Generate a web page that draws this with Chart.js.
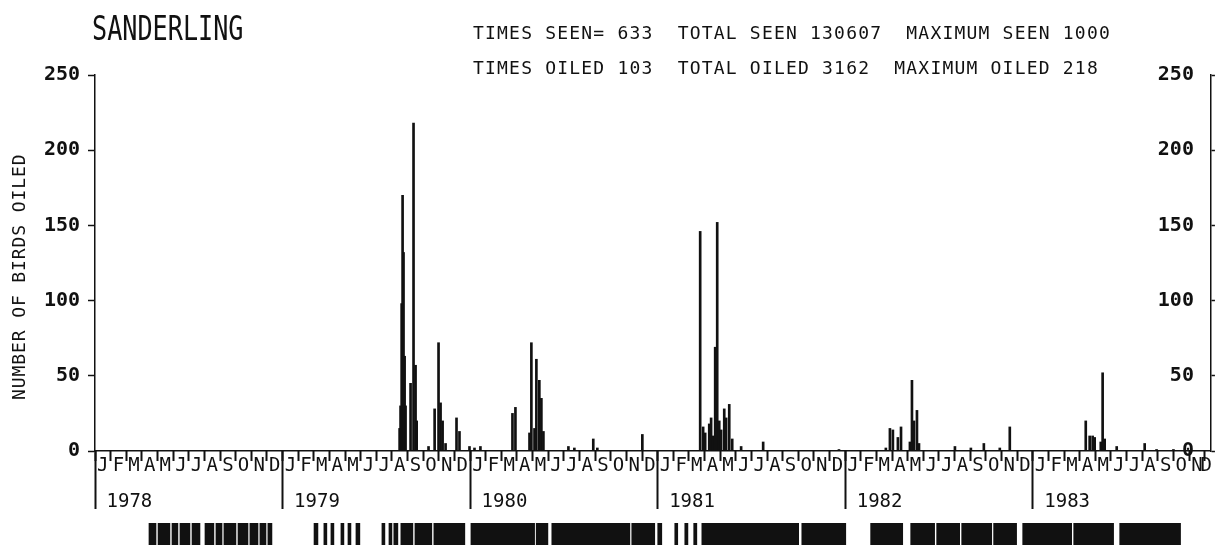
<!DOCTYPE html>
<html>
<head>
<meta charset="utf-8">
<script src="https://cdn.jsdelivr.net/npm/chart.js@4.4.1/dist/chart.umd.min.js"></script>
<style>
  html, body { margin: 0; padding: 0; background: #fff; }
  #wrap { position: relative; width: 1217px; height: 548px; overflow: hidden; background: #fff; }
  #plot { position: absolute; left: 0; top: 0; }
  #strip { position: absolute; left: 0; top: 523px; }
  .txt { position: absolute; font-family: 'DejaVu Sans Mono', monospace; color: #111; white-space: pre; line-height: 1; }
  #title { left: 92px; top: 11px; font-size: 34px; transform: scaleX(0.74); transform-origin: left top; }
  #head1 { left: 473px; top: 24px; font-size: 18px; letter-spacing: 1.2px; }
  #head2 { left: 473px; top: 59px; font-size: 18px; letter-spacing: 1.2px; }
  #ytitle { left: 10px; top: 400px; font-size: 18px; letter-spacing: 0.9px; transform: rotate(-90deg); transform-origin: left top; }
</style>
</head>
<body>
<div id="wrap">
  <canvas id="plot" width="1217" height="548"></canvas>
  <canvas id="strip" width="1217" height="22"></canvas>
  <div id="title" class="txt">SANDERLING</div>
  <div id="head1" class="txt">TIMES SEEN= 633  TOTAL SEEN 130607  MAXIMUM SEEN 1000</div>
  <div id="head2" class="txt">TIMES OILED 103  TOTAL OILED 3162  MAXIMUM OILED 218</div>
  <div id="ytitle" class="txt">NUMBER OF BIRDS OILED</div>
</div>
<script>
// eje x en meses desde el 1 de enero de 1978
const monthLetters = ['J', 'F', 'M', 'A', 'M', 'J', 'J', 'A', 'S', 'O', 'N', 'D'];
const years = ['1978', '1979', '1980', '1981', '1982', '1983'];
const yTicks = [0, 50, 100, 150, 200, 250];

// aves petroleadas por dia de censo
const spikeMonths = [
  19.49, 19.55, 19.62, 19.68, 19.74, 19.81, 19.87, 20.19, 20.38, 20.51, 20.58, 21.34, 21.73, 21.98, 22.11, 22.24, 22.43, 23.13, 23.32, 23.96, 24.28,
  24.66, 26.71, 26.9, 27.8, 27.92, 28.12, 28.24, 28.43, 28.56, 28.69, 30.29, 30.67, 31.88, 32.14, 35.02,
  38.72, 38.91, 39.04, 39.3, 39.42, 39.55, 39.68, 39.81, 39.94, 40.06, 40.26, 40.38, 40.58, 40.77, 41.34, 42.75,
  47.6, 50.6, 50.86, 51.05, 51.37, 51.57, 52.14, 52.27, 52.4, 52.59, 52.72, 55.02, 56.04, 56.87, 57.89, 58.53,
  63.39, 63.64, 63.83, 63.96, 64.35, 64.47, 64.6, 65.37, 67.16, 67.92, 69.0
];
const spikeValues = [
  15, 30, 98, 170, 132, 63, 30, 45, 218, 57, 20, 3, 28, 72, 32, 20, 5, 22, 13, 3, 2,
  3, 25, 29, 12, 72, 15, 61, 47, 35, 13, 3, 2, 8, 2, 11,
  146, 16, 12, 18, 22, 10, 69, 152, 20, 14, 28, 22, 31, 8, 3, 6,
  1, 2, 15, 14, 9, 16, 6, 47, 20, 27, 5, 3, 2, 5, 2, 16,
  20, 10, 10, 9, 6, 52, 8, 3, 5, 1, 1
];

// periodos con censo (franja inferior)
const stripStart = [
  3.45, 4.03, 4.92, 5.43, 6.20, 7.03, 7.73, 8.24, 9.14, 9.90, 10.54, 11.05,
  14.0, 14.63, 15.08, 15.72, 16.17, 16.68,
  18.34, 18.79, 19.1, 19.55, 20.45, 21.66,
  24.03, 28.2, 29.2, 34.31,
  35.97, 37.06, 37.7, 38.27, 38.79, 45.18,
  49.58, 52.14, 53.8, 55.4, 57.44,
  59.3, 62.56, 65.5
];
const stripEnd = [
  3.90, 4.79, 5.30, 6.07, 6.71, 7.60, 8.12, 9.01, 9.78, 10.42, 10.93, 11.31,
  14.25, 14.82, 15.27, 15.91, 16.36, 16.93,
  18.53, 18.98, 19.36, 20.32, 21.53, 23.64,
  28.1, 28.95, 34.19, 35.78,
  36.23, 37.25, 37.9, 38.47, 44.98, 47.99,
  51.63, 53.67, 55.27, 57.32, 58.91,
  62.43, 65.11, 69.39
];

const INK = '#111';
const MONO = 'DejaVu Sans Mono';
const X_MAX = 71.4;

// etiquetas del eje x: letras de mes centradas y años
const xLabelTicks = [];
// marcas cortas de mes y separadores largos de año
const monthEdges = [];
const yearEdges = [];
years.forEach((yr, y) => {
  yearEdges.push(12 * y);
  xLabelTicks.push({ value: 12 * y + 2.2, kind: 'year', label: yr });
  monthLetters.forEach((ml, m) => {
    monthEdges.push(12 * y + m);
    xLabelTicks.push({ value: Math.min(12 * y + m + 0.5, X_MAX - 0.3), kind: 'letter', label: ml });
  });
});
xLabelTicks.sort((a, b) => a.value - b.value);

// eje auxiliar sin etiquetas, anclado en y = 0, que solo dibuja marcas
function edgeAxis(values, len) {
  return {
    type: 'linear',
    position: { y: 0 },
    min: 0,
    max: X_MAX,
    offset: false,
    afterBuildTicks: s => { s.ticks = values.map(v => ({ value: v })); },
    border: { display: false },
    grid: { offset: false, drawOnChartArea: false, drawTicks: true, tickLength: len, tickWidth: 2, tickColor: INK },
    ticks: { display: false }
  };
}

new Chart(document.getElementById('plot'), {
  type: 'bar',
  data: {
    datasets: [{
      data: spikeMonths.map((m, i) => ({ x: m, y: spikeValues[i] })),
      backgroundColor: INK,
      borderWidth: 0,
      barThickness: 2,
      xAxisID: 'x',
      yAxisID: 'y'
    }]
  },
  options: {
    responsive: false,
    animation: false,
    devicePixelRatio: 1,
    layout: { padding: { top: 75, left: 0, right: 0, bottom: 0 } },
    plugins: { legend: { display: false }, tooltip: { enabled: false } },
    scales: {
      x: {
        type: 'linear',
        position: 'bottom',
        min: 0,
        max: X_MAX,
        offset: false,
        afterBuildTicks: s => { s.ticks = xLabelTicks.map(t => ({ value: t.value })); },
        afterFit: s => { s.height = 97; },
        border: { display: true, color: INK, width: 1.5 },
        grid: { display: false, offset: false, drawTicks: false },
        ticks: {
          autoSkip: false,
          maxRotation: 0,
          minRotation: 0,
          padding: 5,
          color: INK,
          callback: (v, i) => xLabelTicks[i].label,
          font: ctx => (xLabelTicks[ctx.index] || {}).kind === 'year'
            ? { family: MONO, size: 19, lineHeight: '92px' }
            : { family: MONO, size: 19, lineHeight: '20px' }
        }
      },
      xMonth: edgeAxis(monthEdges, 10),
      xYear: edgeAxis(yearEdges, 58),
      y: {
        type: 'linear',
        position: 'left',
        min: 0,
        max: 250,
        afterBuildTicks: s => { s.ticks = yTicks.map(v => ({ value: v })); },
        afterFit: s => { s.width = 95; },
        border: { display: true, color: INK, width: 1.5 },
        grid: { drawOnChartArea: false, tickLength: 7, tickColor: INK, tickWidth: 1.5 },
        ticks: { padding: 8, color: INK, font: { family: MONO, size: 20, weight: 'bold' } }
      },
      y2: {
        type: 'linear',
        position: 'right',
        min: 0,
        max: 250,
        afterBuildTicks: s => { s.ticks = yTicks.map(v => ({ value: v })); },
        afterFit: s => { s.width = 5; },
        border: { display: true, color: INK, width: 1.5 },
        grid: { drawOnChartArea: false, tickLength: 4, tickColor: INK, tickWidth: 1.5 },
        ticks: { mirror: true, padding: -17, color: INK, font: { family: MONO, size: 20, weight: 'bold' } }
      }
    }
  }
});

// franja de cobertura de censos
new Chart(document.getElementById('strip'), {
  type: 'bar',
  data: {
    datasets: [{
      data: stripStart.map((s, i) => ({ x: [s, stripEnd[i]], y: 0 })),
      backgroundColor: INK,
      borderWidth: 0,
      barThickness: 22
    }]
  },
  options: {
    indexAxis: 'y',
    responsive: false,
    animation: false,
    devicePixelRatio: 1,
    layout: { padding: { left: 95, right: 5, top: 0, bottom: 0 } },
    plugins: { legend: { display: false }, tooltip: { enabled: false } },
    scales: {
      x: { type: 'linear', min: 0, max: X_MAX, display: false },
      y: { type: 'linear', min: -0.5, max: 0.5, display: false }
    }
  }
});
</script>
</body>
</html>
